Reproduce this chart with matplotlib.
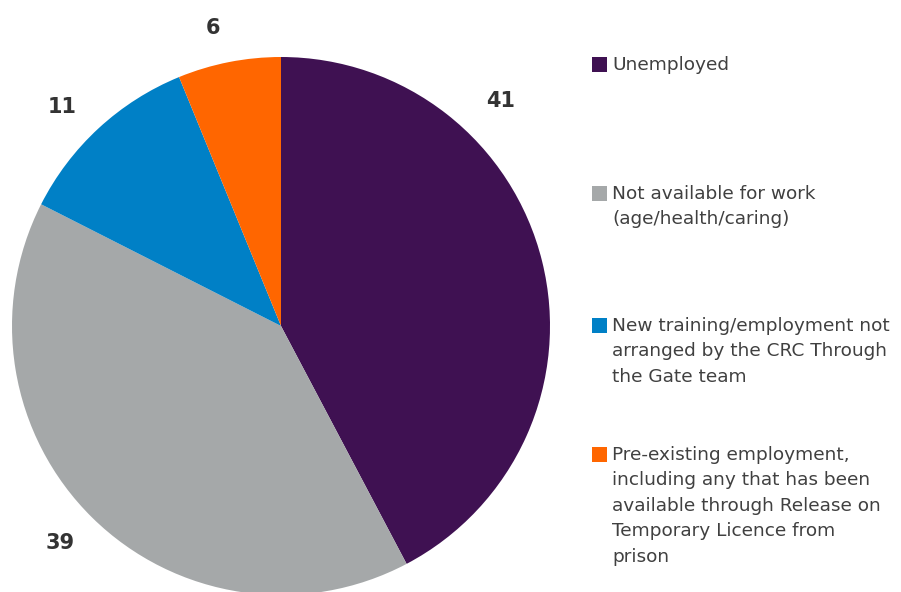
import matplotlib.pyplot as plt

categories = [
    "Unemployed",
    "Not available for work\n(age/health/caring)",
    "New training/employment not\narranged by the CRC Through\nthe Gate team",
    "Pre-existing employment,\nincluding any that has been\navailable through Release on\nTemporary Licence from\nprison",
]
values = [41, 39, 11, 6]
colors = ["#3f1152", "#a5a8a9", "#0080c6", "#ff6600"]

W, H = 901, 592

fig = plt.figure(figsize=(W / 100, H / 100), dpi=100)
ax = fig.add_axes([0, 0, 1, 1])


def py(y):
    # pixel row (top-down) to axis y
    return H - y


ax.pie(values, colors=colors, startangle=90, counterclock=False,
       center=(281, py(326)), radius=269, frame=True,
       wedgeprops=dict(linewidth=0))
ax.set_xlim(0, W)
ax.set_ylim(0, H)
ax.set_aspect("equal")
ax.axis("off")

# value labels around the pie
label_pos = [(501, 101), (60, 543), (62, 107), (213, 28)]
for v, (x, y) in zip(values, label_pos):
    ax.text(x, py(y), str(v), ha="center", va="center", fontsize=15,
            fontweight="bold", color="#333333")

# legend on the right
legend_y = [65, 194, 326, 455]
for cat, c, y in zip(categories, colors, legend_y):
    ax.add_patch(plt.Rectangle((592, py(y) - 7), 15, 15, color=c, lw=0))
    ax.text(612, py(y) + 9, cat, ha="left", va="top", fontsize=13.3,
            color="#404040", linespacing=1.53)

fig.savefig("out.png", dpi=100)
